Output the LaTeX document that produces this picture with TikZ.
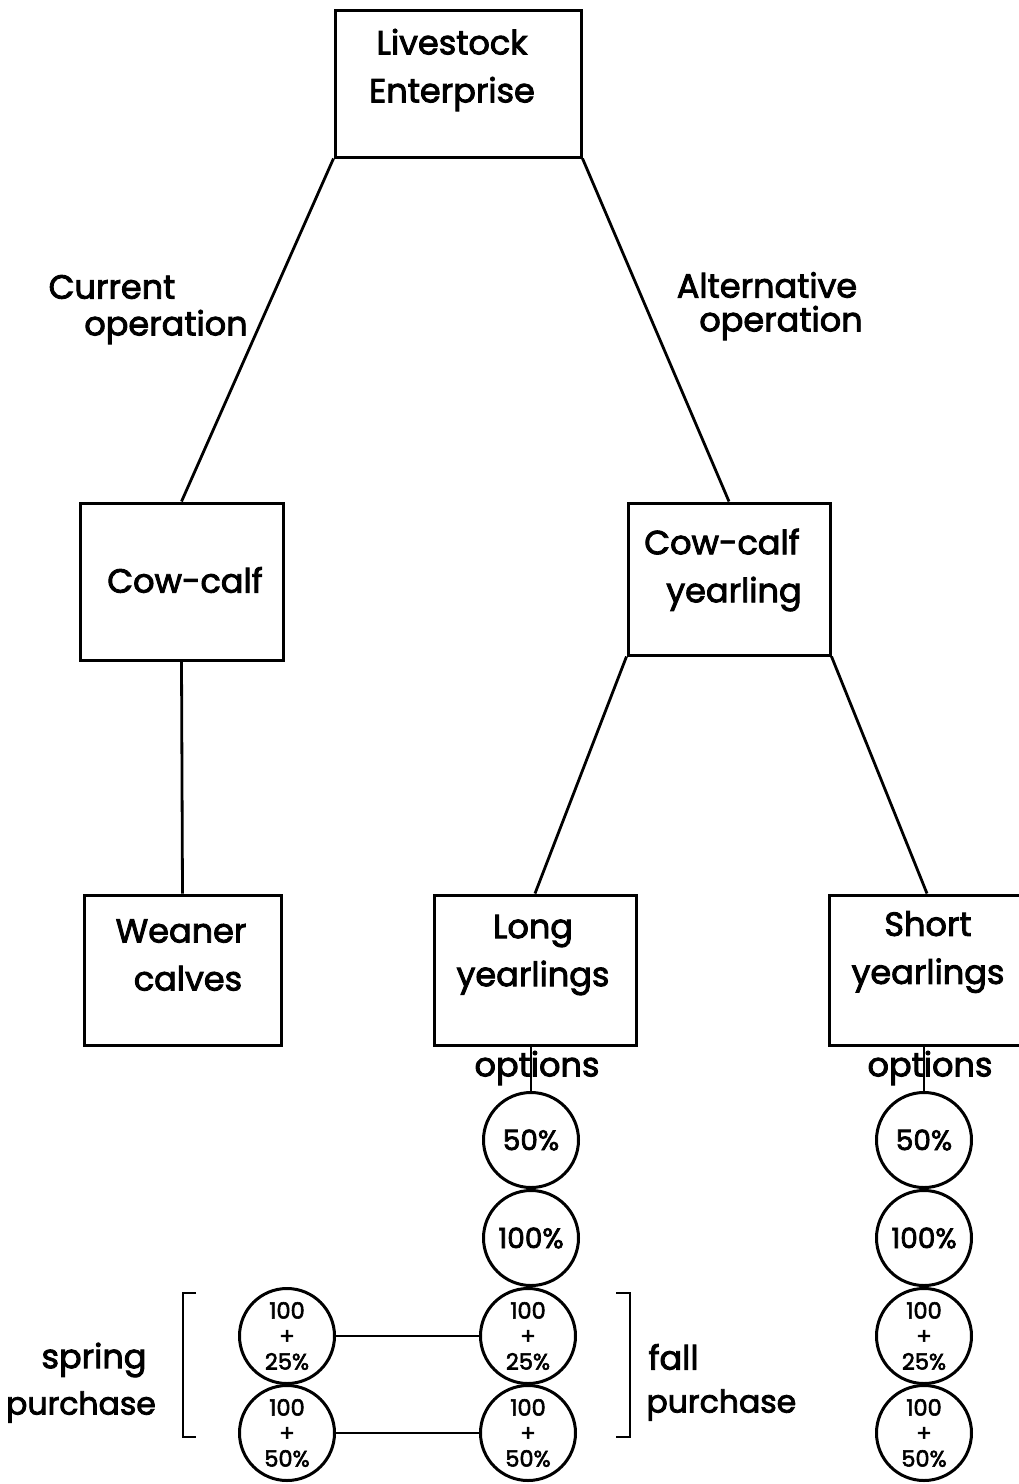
\documentclass[tikz,border=0pt]{standalone}
\usepackage{fontspec}
\setmainfont{Poppins}[FakeBold=2.6]
\begin{document}
\begin{tikzpicture}[x=1pt,y={(0pt,-1pt)},line width=3pt,
  box/.style={draw,rectangle,inner sep=0pt},
  lbl/.style={inner sep=0pt,align=center,font=\fontsize{33.5}{48}\selectfont},
  circ/.style={draw,circle,minimum size=95pt,inner sep=0pt,align=center,font=\fontsize{28}{25}\selectfont},
  circm/.style={circ,font=\fontsize{22.5}{25.5}\selectfont},
  conn/.style={line width=2.8pt}]
\useasboundingbox (0,0) rectangle (1018,1484);
% boxes
\node[box,minimum width=246pt,minimum height=147pt] (top) at (458,83.5) {};
\node[lbl] (toptxt) at (452,70) {Livestock\\Enterprise};
\node[box,minimum width=203pt,minimum height=157pt] (cc) at (181.5,581.5) {};
\node[lbl] (cctxt) at (185,580) {Cow-calf};
\node[box,minimum width=202pt,minimum height=152pt] (ccy) at (729,579) {};
\node[lbl] (ccytxt) at (722,570) {Cow-calf\\\hspace*{24pt}yearling};
\node[box,minimum width=197pt,minimum height=150pt] (wean) at (182.5,970) {};
\node[lbl] (weantxt) at (181,955) {Weaner\\\hspace*{14pt}calves};
\node[box,minimum width=202pt,minimum height=150pt] (long) at (535,970) {};
\node[lbl] (longtxt) at (533,955) {Long\\yearlings};
\node[box,minimum width=196pt,minimum height=150pt] (short) at (927,970) {};
\node[lbl] (shorttxt) at (928,952) {Short\\yearlings};
% connectors
\draw[conn] (top.south west) -- (cc.north);
\draw[conn] (top.south east) -- (ccy.north);
\draw[conn] (cc.south) -- (wean.north);
\draw[conn] (ccy.south west) -- (long.north);
\draw[conn] (ccy.south east) -- (short.north);
% edge labels
\node[lbl] (cur1) at (112,287) {Current};
\node[lbl] (cur2) at (166,327) {operation};
\node[lbl] (alt1) at (767,285) {Alternative};
\node[lbl] (alt2) at (781,323) {operation};
% options
\node[lbl] (optl) at (537,1068) {options};
\node[lbl] (opts) at (930,1068) {options};
% long column circles
\node[circ] (m1) at (531,1140) {50\%};
\node[circ] (m2) at (531,1238) {100\%};
\node[circm] (m3) at (528,1336) {100\\+\\25\%};
\node[circm] (m4) at (528,1433) {100\\+\\50\%};
% left circles
\node[circm] (l3) at (287,1336) {100\\+\\25\%};
\node[circm] (l4) at (287,1433) {100\\+\\50\%};
% right column circles
\node[circ] (r1) at (924,1140) {50\%};
\node[circ] (r2) at (924,1238) {100\%};
\node[circm] (r3) at (924,1336) {100\\+\\25\%};
\node[circm] (r4) at (924,1433) {100\\+\\50\%};
\draw[conn] (long.south -| m1.north) -- (m1.north);
\draw[conn] (short.south -| r1.north) -- (r1.north);
\draw[conn] (l3.east) -- (m3.west);
\draw[conn] (l4.east) -- (m4.west);
% brackets and labels
\draw[conn] (196,1293) -- (183,1293) -- (183,1437) -- (196,1437);
\draw[conn] (616,1293) -- (630,1293) -- (630,1437) -- (616,1437);
\node[lbl] (spr1) at (94,1360) {spring};
\node[lbl,font=\fontsize{31.5}{48}\selectfont] (spr2) at (81,1407) {purchase};
\node[lbl,anchor=west] (fal1) at (647,1357) {fall};
\node[lbl,anchor=west,font=\fontsize{31.5}{48}\selectfont] (fal2) at (645,1405) {purchase};
\end{tikzpicture}
\end{document}
